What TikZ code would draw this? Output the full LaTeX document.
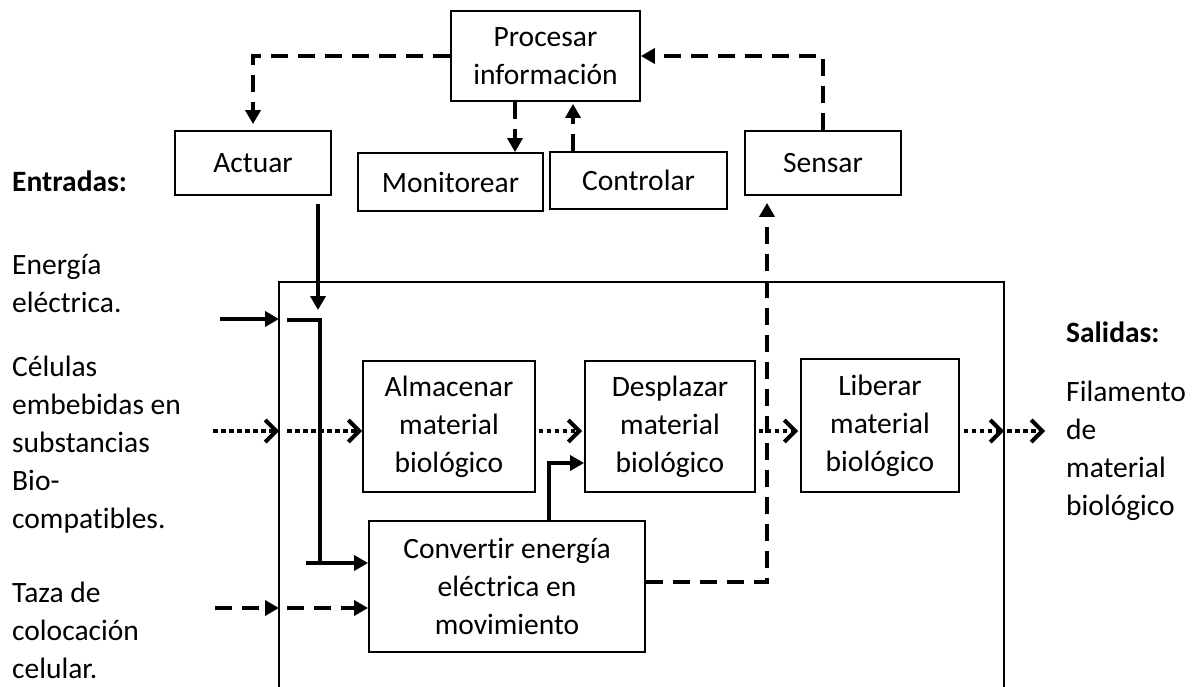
\documentclass[tikz,border=0pt]{standalone}
\usepackage{fontspec}
\setmainfont{Carlito}[Ligatures=NoCommon]
\usetikzlibrary{arrows.meta,calc}
\begin{document}
\begin{tikzpicture}[x=1pt,y=-1pt,
  every node/.style={font=\fontsize{29.5}{38}\selectfont},
  blk/.style={draw, line width=1.8pt, align=center, inner sep=0pt},
  solidarr/.style={line width=3.6pt, -{Triangle[length=14pt,width=15pt]}},
  dasharr/.style={line width=3.6pt, dash pattern=on 17pt off 10pt, -{Triangle[length=14pt,width=15pt]}},
  dotarr/.style={line width=4pt, dash pattern=on 4.5pt off 3.5pt, -{Straight Barb[length=11pt,width=22pt,line width=4pt]}},
  lbl/.style={align=left, anchor=west, inner sep=0pt}
]
\useasboundingbox (0,0) rectangle (1197,687);

% top control boxes
\node[blk, minimum width=189pt, minimum height=90pt] (proc) at (545.5,56) {Procesar\\información};
\node[blk, minimum width=156pt, minimum height=64pt] (act) at (253,163) {Actuar};
\node[blk, minimum width=185pt, minimum height=58pt] (mon) at (450.5,182) {Monitorear};
\node[blk, minimum width=177pt, minimum height=57pt] (ctl) at (638.5,180.5) {Controlar};
\node[blk, minimum width=156pt, minimum height=64pt] (sen) at (823,163) {Sensar};

% system boundary
\draw[line width=1.8pt] (279,687) -- (279,282) -- (1004,282) -- (1004,687);

% process boxes
\node[blk, minimum width=172pt, minimum height=131pt] (alm) at (449,426.5) {Almacenar\\material\\biológico};
\node[blk, minimum width=170pt, minimum height=131pt] (des) at (670,426.5) {Desplazar\\material\\biológico};
\node[blk, minimum width=158pt, minimum height=133pt] (lib) at (880,425.5) {Liberar\\material\\biológico};
\node[blk, minimum width=276pt, minimum height=131pt] (conv) at (507,586.5) {Convertir energía\\eléctrica en\\movimiento};

% texts
\node[lbl, font=\fontsize{29.5}{38}\selectfont\bfseries] (ent) at (12,181) {Entradas:};
\node[lbl] (en) at (12,284) {Energía\\eléctrica.};
\node[lbl] (cel) at (12,445) {Células\\embebidas en\\substancias\\Bio-\\compatibles.};
\node[lbl] (taz) at (12,630) {Taza de\\colocación\\celular.};
\node[lbl, font=\fontsize{29.5}{38}\selectfont\bfseries] (sal) at (1066,332) {Salidas:};
\node[lbl] (fil) at (1066,451) {Filamento\\de\\material\\biológico};

% coordinates
\coordinate (mx) at (515,0);
\coordinate (cx) at (573,0);
\coordinate (ax) at (318,0);
\coordinate (ux) at (549,0);
\coordinate (sx) at (767,0);
\coordinate (dy) at (0,431);
\coordinate (ty) at (0,608);
\coordinate (ry) at (0,582);
\coordinate (ly) at (0,463);
\coordinate (ky) at (0,563);

% control loop (dashed)
\draw[dasharr, shorten >=6pt] (proc.west) -| (act.north);
\draw[dasharr] (proc.south -| mx) -- (mon.north -| mx);
\draw[dasharr, shorten >=2pt] (ctl.north -| cx) -- (proc.south -| cx);
\draw[dasharr] (sen.north) |- (proc.east);

% Actuar to energy line
\draw[solidarr, shorten <=8pt] (act.south -| ax) -- (318,310);
\draw[line width=3.6pt] (287,320) -- (320,320) -- (320,563) -- ($(conv.west |- ky)+(-14,0)$);
\draw[solidarr] (306,563) -- (conv.west |- ky);

% inputs
\draw[solidarr] (220,319) -- (279,319);
\draw[dotarr] (213,431) -- (279,431);
\draw[dotarr] (287,431) -- (alm.west |- dy);
\draw[dasharr] (215,608) -- (279,608);
\draw[dasharr] (287,608) -- (conv.west |- ty);

% flow between process boxes
\draw[dotarr, shorten <=3pt, shorten >=2pt] (alm.east |- dy) -- (des.west |- dy);
\draw[dotarr, shorten <=3pt, shorten >=2pt] (des.east |- dy) -- (lib.west |- dy);
\draw[dotarr, shorten <=4pt] (lib.east |- dy) -- (1004,431);
\draw[dotarr] (1007,431) -- (1045,431);

% convertir to desplazar
\draw[solidarr] (conv.north -| ux) |- (des.west |- ly);
% convertir to sensar
\draw[dasharr, shorten >=7pt] (conv.east |- ry) -| (sen.south -| sx);
\end{tikzpicture}
\end{document}
